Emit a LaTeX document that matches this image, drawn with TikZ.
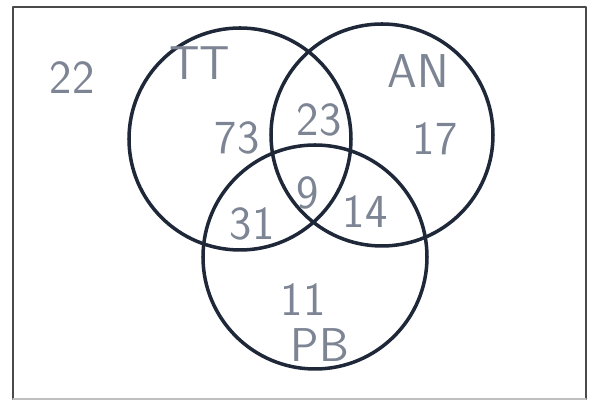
\documentclass[tikz,border=0pt]{standalone}
\usetikzlibrary{calc}
\definecolor{ink}{HTML}{1E2838}
\definecolor{pencil}{HTML}{7D8594}
\definecolor{edge}{HTML}{4A4A4A}

\begin{document}
\begin{tikzpicture}[x=0.02cm,y=0.02cm,line cap=round,line join=round,
  ring/.style={draw=ink,line width=2pt},
  hand/.style={text=pencil,font=\sffamily\fontsize{27}{29}\selectfont,inner sep=0pt}]
  \useasboundingbox (0,0) rectangle (596,401);
  \coordinate (F1) at (13,2); \coordinate (F2) at (13,394); \coordinate (F3) at (586,394); \coordinate (F4) at (586,2);
  \draw[edge,line width=1.2pt] (F1)--(F2)--(F3)--(F4);
  \draw[black!25,line width=0.6pt] (F4)--(F1);
  \coordinate (TT) at (240,262); \coordinate (AN) at (382,266); \coordinate (PB) at (315,144);
  \draw[ring] (TT) circle[radius=111]; \draw[ring] (AN) circle[radius=111]; \draw[ring] (PB) circle[radius=112];
  \node[hand] (tt) at (200,338) {TT}; \node[hand] (an) at (418,330) {AN}; \node[hand] (pb) at (320,56) {PB};
  \node[hand] (out) at (72,323) {22};
  \node[hand] (ttonly) at (237,263) {73}; \node[hand] (ttan) at (319,281) {23}; \node[hand] (anonly) at (435,262) {17};
  \node[hand] (all) at (308,208) {9}; \node[hand] (ttpb) at (252,177) {31}; \node[hand] (anpb) at (365,189) {14};
  \node[hand] (pbonly) at (303,101) {11};
\end{tikzpicture}
\end{document}
